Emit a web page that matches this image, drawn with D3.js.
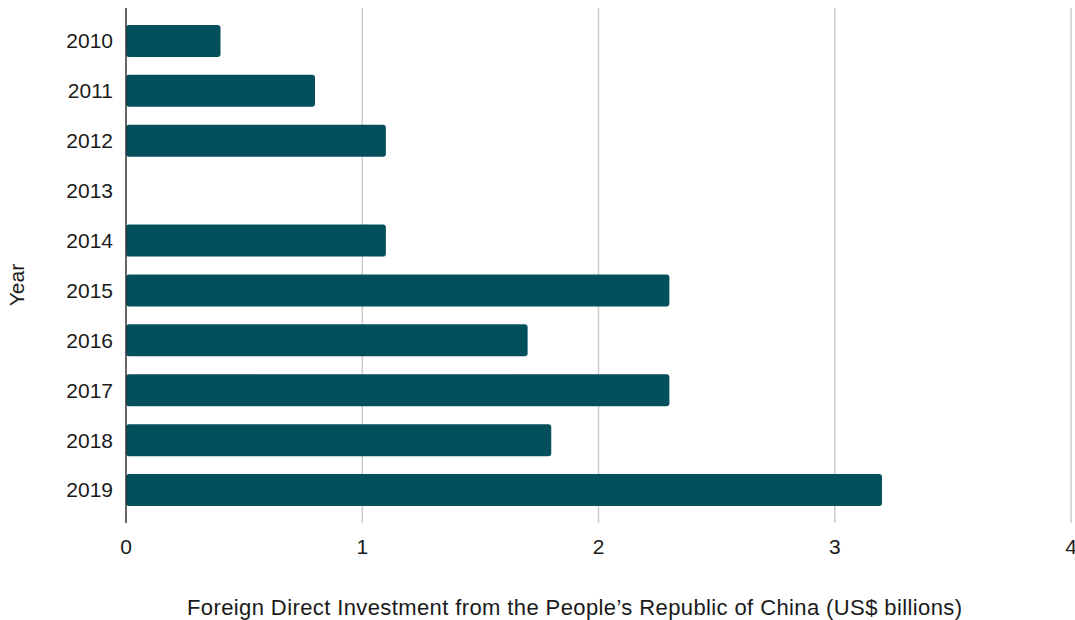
<!DOCTYPE html>
<html><head><meta charset="utf-8">
<script src="https://cdn.jsdelivr.net/npm/d3@7"></script>
<style>body{margin:0;background:#fff}svg{display:block;font-family:"Liberation Sans",Arial,sans-serif}</style>
</head><body><svg id="c" width="1075" height="620"></svg>
<script>
const years = ["2010","2011","2012","2013","2014","2015","2016","2017","2018","2019"];
const values = [0.4, 0.8, 1.1, 0, 1.1, 2.3, 1.7, 2.3, 1.8, 3.2];
const xTicks = [0, 1, 2, 3, 4];
const xTitle = "Foreign Direct Investment from the People’s Republic of China (US$ billions)";
const yTitle = "Year";

const svg = d3.select("#c");
const x = d3.scaleLinear().domain([0, 4]).range([126, 1071]);
const y = d3.scaleBand().domain(years).range([16, 515]).paddingInner(0.358).paddingOuter(0.179);
const plotTop = 8, plotBottom = 523;

svg.append("g").selectAll("line").data(xTicks.filter(d => d > 0)).join("line")
  .attr("x1", d => x(d)).attr("x2", d => x(d)).attr("y1", plotTop).attr("y2", plotBottom)
  .attr("stroke", "#cccccc").attr("stroke-width", 1.5);

svg.append("g").selectAll("rect").data(years.map((k, i) => ({k, v: values[i]})).filter(d => d.v > 0)).join("rect")
  .attr("x", x(0)).attr("y", d => y(d.k)).attr("width", d => x(d.v) - x(0)).attr("height", y.bandwidth())
  .attr("rx", 3).attr("fill", "#03505c");

svg.append("line").attr("x1", x(0)).attr("x2", x(0)).attr("y1", plotTop).attr("y2", plotBottom)
  .attr("stroke", "#333").attr("stroke-width", 1.5);

svg.append("g").selectAll("text").data(years).join("text")
  .attr("x", 113).attr("y", d => y(d) + y.bandwidth() / 2).attr("dy", "0.35em")
  .attr("text-anchor", "end").attr("font-size", 21).attr("fill", "#1a1a1a").text(d => d);

svg.append("g").selectAll("text").data(xTicks).join("text")
  .attr("x", d => x(d)).attr("y", 547).attr("dy", "0.35em")
  .attr("text-anchor", "middle").attr("font-size", 21).attr("fill", "#1a1a1a").text(d => d);

svg.append("text").attr("x", 187).attr("y", 607).attr("dy", "0.35em").attr("text-anchor", "start")
  .attr("font-size", 22).attr("fill", "#1a1a1a")
  .attr("textLength", 775).attr("lengthAdjust", "spacing").text(xTitle);

svg.append("text").attr("transform", "translate(17,285) rotate(-90)").attr("dy", "0.35em")
  .attr("text-anchor", "middle").attr("font-size", 21).attr("fill", "#1a1a1a").text(yTitle);
</script></body></html>
